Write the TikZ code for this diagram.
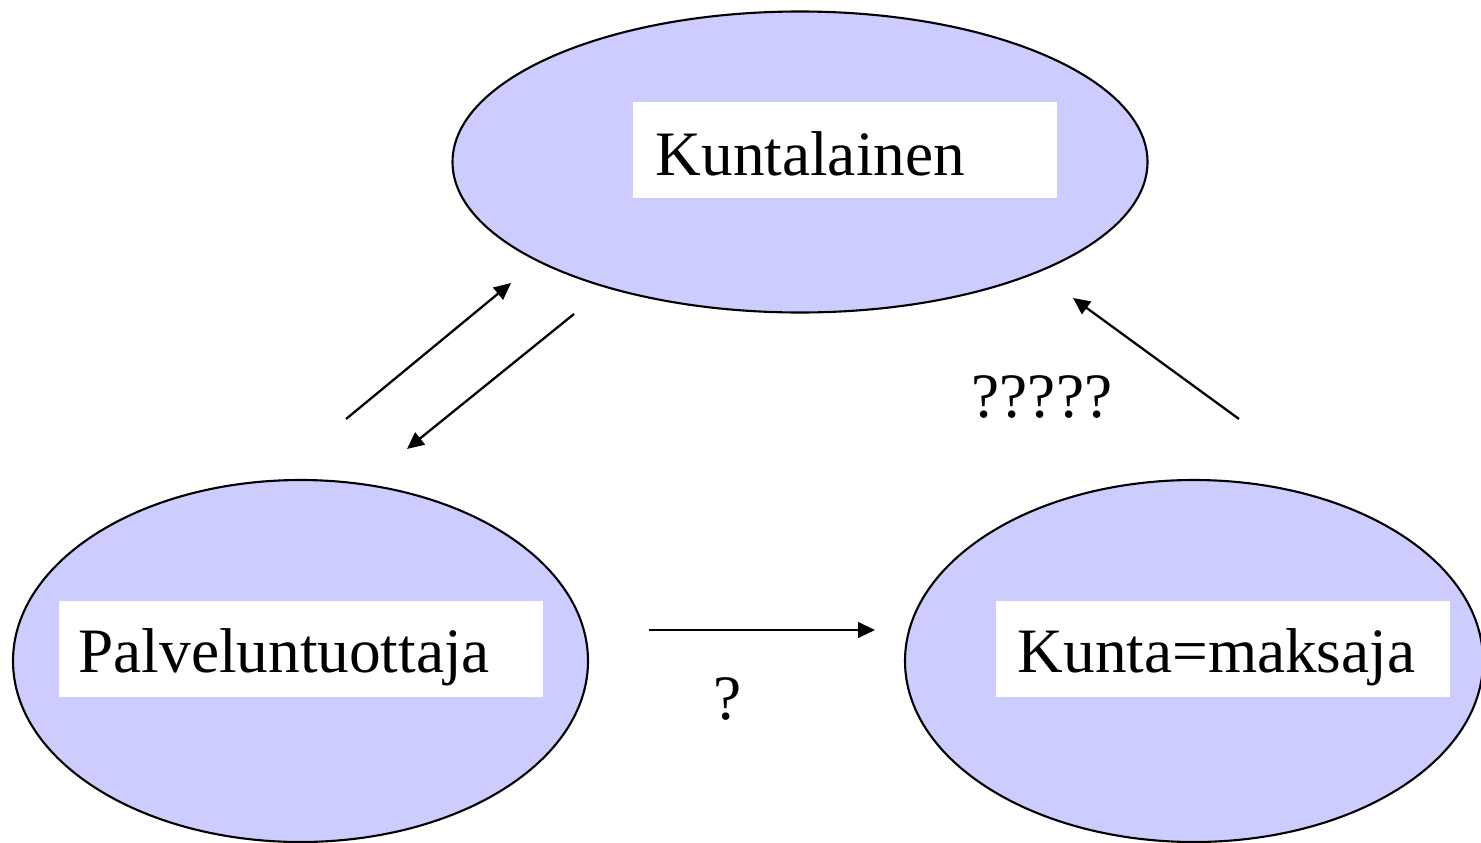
\documentclass[tikz,border=0pt]{standalone}
\usepackage{fontspec}
\setmainfont{Liberation Serif}
\usetikzlibrary{shapes.geometric,arrows.meta}
\definecolor{oval}{RGB}{204,204,255}

\begin{document}
\begin{tikzpicture}[
  ov/.style={ellipse, draw, fill=oval, line width=0.6pt, inner sep=0pt},
  box/.style={rectangle, fill=white, inner sep=0pt, minimum height=0.96cm},
  txt/.style={anchor=base west, inner sep=0pt, font=\fontsize{18}{21}\selectfont},
  arr/.style={-{Triangle[length=4.8pt,width=4.4pt]}, line width=0.65pt}]
\useasboundingbox (0,0) rectangle (14.81,8.42);

\node[ov, minimum width=6.95cm, minimum height=3.01cm] (v1) at (8.00,6.80) {};
\node[ov, minimum width=5.75cm, minimum height=3.62cm] (v2) at (3.005,1.81) {};
\node[ov, minimum width=5.78cm, minimum height=3.62cm] (v3) at (11.94,1.81) {};

\node[box, minimum width=4.24cm] (b1) at (8.45,6.92) {};
\node[box, minimum width=4.84cm] (b2) at (3.01,1.93) {};
\node[box, minimum width=4.54cm] (b3) at (12.23,1.93) {};

\node[txt] (t1) at (6.55,6.67) {Kuntalainen};
\node[txt] (t2) at (0.78,1.70) {Palveluntuottaja};
\node[txt] (t3) at (10.17,1.70) {Kunta=maksaja};

\coordinate (a1) at (3.46,4.23);
\coordinate (a2) at (5.11,5.59);
\coordinate (a3) at (5.74,5.28);
\coordinate (a4) at (4.07,3.93);
\coordinate (a5) at (12.39,4.23);
\coordinate (a6) at (10.73,5.44);
\coordinate (a7) at (6.49,2.12);
\coordinate (a8) at (8.75,2.12);
\draw[arr] (a1) -- (a2);
\draw[arr] (a3) -- (a4);
\draw[arr] (a5) -- (a6);
\draw[arr] (a7) -- (a8);

\node[txt, anchor=base] (q1) at (10.42,4.25) {?????};
\node[txt, anchor=base] (q2) at (7.28,1.23) {?};
\end{tikzpicture}
\end{document}
